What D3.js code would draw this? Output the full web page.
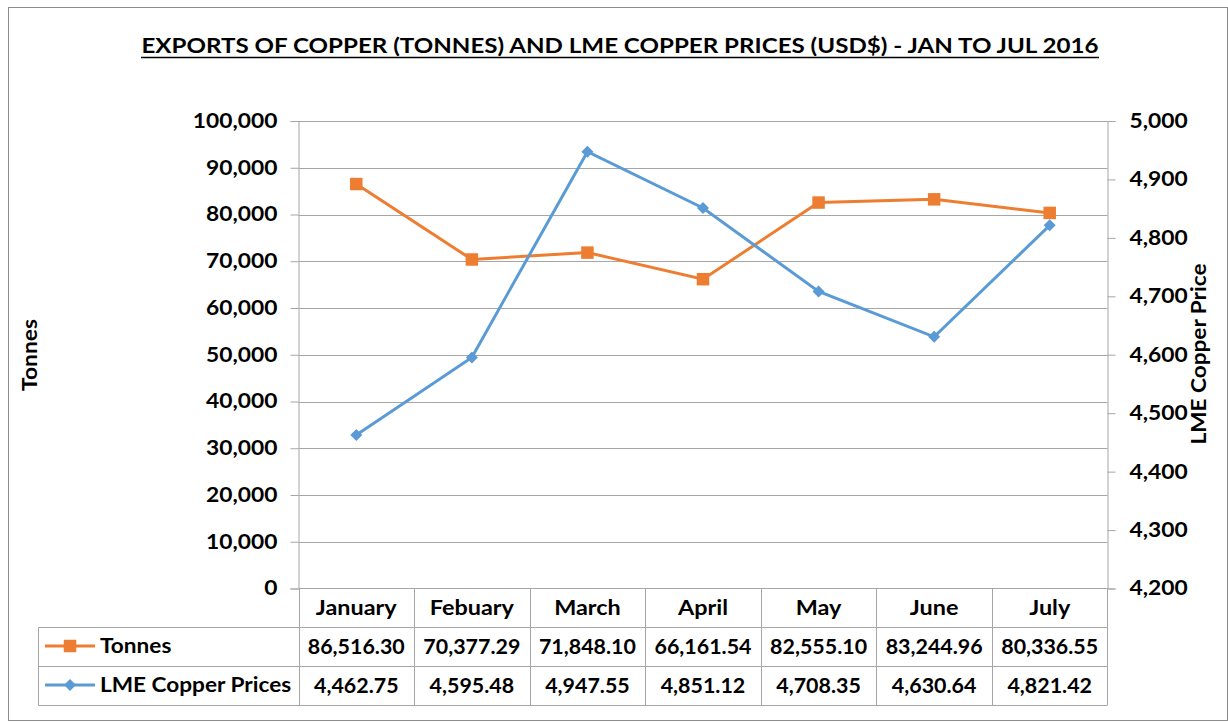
<!DOCTYPE html>
<html><head><meta charset="utf-8">
<script src="https://cdn.jsdelivr.net/npm/d3@7"></script>
<style>body{margin:0;background:#fff}svg{display:block}</style>
</head><body>
<script>
const months = ["January","Febuary","March","April","May","June","July"];
const tonnes = [86516.30,70377.29,71848.10,66161.54,82555.10,83244.96,80336.55];
const prices = [4462.75,4595.48,4947.55,4851.12,4708.35,4630.64,4821.42];
const leftTicks = [0,10000,20000,30000,40000,50000,60000,70000,80000,90000,100000];
const rightTicks = [4200,4300,4400,4500,4600,4700,4800,4900,5000];
const seriesNames = ["Tonnes","LME Copper Prices"];

const W=1228,H=723;
const FONT="Lato, 'Open Sans', sans-serif";
const svg=d3.select("body").append("svg").attr("width",W).attr("height",H).style("font-family",FONT);
svg.append("rect").attr("x",8.5).attr("y",7.5).attr("width",W-9).attr("height",H-10).attr("fill","#fff").attr("stroke","#8c8c8c");

function stretch(sel,f){
  sel.each(function(){const w=this.getComputedTextLength();
    d3.select(this).attr("textLength",w*f).attr("lengthAdjust","spacingAndGlyphs");});
}

const L=298.5,R=1107.5,T=121,B=588.5;
const x=d3.scaleBand().domain(months).range([L,R]);
const yL=d3.scaleLinear().domain([0,100000]).range([B,T]);
const yR=d3.scaleLinear().domain([4200,5000]).range([B,T]);
const grid="#a6a6a6";

// title
svg.append("text").attr("x",620).attr("y",53).attr("text-anchor","middle")
 .attr("font-size",21.5).attr("font-weight","bold").attr("textLength",957).attr("lengthAdjust","spacingAndGlyphs")
 .text("EXPORTS OF COPPER (TONNES) AND LME COPPER PRICES (USD$)  - JAN TO JUL 2016");
svg.append("line").attr("x1",141).attr("x2",1099).attr("y1",57.5).attr("y2",57.5).attr("stroke","#000").attr("stroke-width",1.6);

// gridlines
svg.append("g").selectAll("line").data(leftTicks.slice(1)).join("line")
 .attr("x1",L).attr("x2",R).attr("y1",d=>Math.round(yL(d))+0.5).attr("y2",d=>Math.round(yL(d))+0.5).attr("stroke",grid);

// left axis
const ga=svg.append("g").attr("transform",`translate(${L},0)`)
 .call(d3.axisLeft(yL).tickValues(leftTicks).tickFormat(d3.format(",")).tickSize(8).tickPadding(13));
ga.select(".domain").attr("stroke",grid);
ga.selectAll(".tick line").attr("stroke",grid);
ga.selectAll("text").attr("font-size",20).attr("font-weight","bold").attr("font-family",FONT).attr("fill","#000");
stretch(ga.selectAll("text"),1.14);

// right axis
const gr=svg.append("g").attr("transform",`translate(${R},0)`)
 .call(d3.axisRight(yR).tickValues(rightTicks).tickFormat(d3.format(",")).tickSize(8).tickPadding(14));
gr.select(".domain").attr("stroke",grid);
gr.selectAll(".tick line").attr("stroke",grid);
gr.selectAll("text").attr("font-size",20).attr("font-weight","bold").attr("font-family",FONT).attr("fill","#000");
stretch(gr.selectAll("text"),1.14);

// axis titles
svg.append("text").attr("transform","translate(37,355) rotate(-90)").attr("text-anchor","middle")
 .attr("font-size",20).attr("font-weight","bold").attr("textLength",72).attr("lengthAdjust","spacingAndGlyphs").text("Tonnes");
svg.append("text").attr("transform","translate(1206,354) rotate(-90)").attr("text-anchor","middle")
 .attr("font-size",20).attr("font-weight","bold").attr("textLength",181).attr("lengthAdjust","spacingAndGlyphs").text("LME Copper Price");

// series
const cx=d=>x(d)+x.bandwidth()/2;
const orange="#ED7D31", blue="#5B9BD5";
const sq=d3.symbol(d3.symbolSquare,156), dm=d3.symbol(d3.symbolSquare,72);
svg.append("path").datum(months).attr("fill","none").attr("stroke",orange).attr("stroke-width",3)
 .attr("d",d3.line().x(cx).y((d,i)=>yL(tonnes[i])));
svg.append("path").datum(months).attr("fill","none").attr("stroke",blue).attr("stroke-width",3)
 .attr("d",d3.line().x(cx).y((d,i)=>yR(prices[i])));
svg.append("g").selectAll("path").data(months).join("path")
 .attr("d",sq).attr("fill",orange)
 .attr("transform",(d,i)=>`translate(${cx(d)},${yL(tonnes[i])})`);
svg.append("g").selectAll("path").data(months).join("path")
 .attr("d",dm).attr("fill",blue)
 .attr("transform",(d,i)=>`translate(${cx(d)},${yR(prices[i])}) rotate(45)`);

// data table
const tb=svg.append("g");
const rows=[B,627.5,666.5,705.5];
const TL=38.5;
tb.append("line").attr("x1",L).attr("x2",R).attr("y1",rows[0]).attr("y2",rows[0]).attr("stroke",grid);
[1,2,3].forEach(k=>tb.append("line").attr("x1",TL).attr("x2",R).attr("y1",rows[k]).attr("y2",rows[k]).attr("stroke",grid));
tb.append("line").attr("x1",TL).attr("x2",TL).attr("y1",rows[1]).attr("y2",rows[3]).attr("stroke",grid);
months.forEach(m=>{const xx=Math.round(x(m))+0.5;
 tb.append("line").attr("x1",xx).attr("x2",xx).attr("y1",rows[0]).attr("y2",rows[3]).attr("stroke",grid);});
tb.append("line").attr("x1",R).attr("x2",R).attr("y1",rows[0]).attr("y2",rows[3]).attr("stroke",grid);
const hdr=tb.selectAll("text.h").data(months).join("text").attr("class","h").attr("x",cx).attr("y",615)
 .attr("text-anchor","middle").attr("font-size",20).attr("font-weight","bold").text(d=>d);
stretch(hdr,1.17);
const fmt=d3.format(",.2f");
const tt=tb.selectAll("text.t").data(tonnes).join("text").attr("class","t").attr("x",(d,i)=>cx(months[i])).attr("y",654)
 .attr("text-anchor","middle").attr("font-size",20).attr("font-weight","bold").text(d=>fmt(d));
stretch(tt,1.07);
const pp=tb.selectAll("text.p").data(prices).join("text").attr("class","p").attr("x",(d,i)=>cx(months[i])).attr("y",693)
 .attr("text-anchor","middle").attr("font-size",20).attr("font-weight","bold").text(d=>fmt(d));
stretch(pp,1.07);
const keyY=[646,685];
[orange,blue].forEach((c,k)=>{
 tb.append("line").attr("x1",45).attr("x2",95).attr("y1",keyY[k]).attr("y2",keyY[k]).attr("stroke",c).attr("stroke-width",3);
 tb.append("path").attr("d",k?dm:sq).attr("fill",c).attr("transform",`translate(70,${keyY[k]})${k?" rotate(45)":""}`);
 const t=tb.append("text").attr("x",100).attr("y",keyY[k]+7).attr("font-size",20).attr("font-weight","bold").text(seriesNames[k]);
 stretch(t,1.13);
});
</script>
</body></html>
